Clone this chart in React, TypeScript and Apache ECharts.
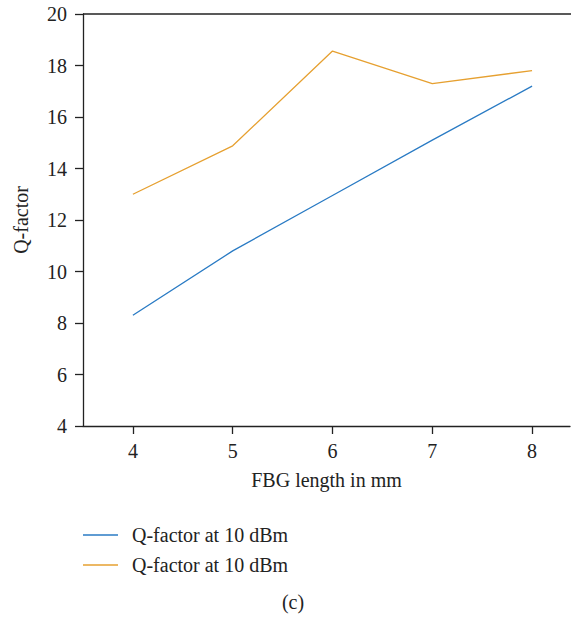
import React, { useEffect, useRef } from "react";
import * as echarts from "echarts";

const xValues = [4, 5, 6, 7, 8];
const seriesNames = ["Q-factor at 10 dBm", "Q-factor at 10 dBm"];
const blueValues = [8.3, 10.8, 12.95, 15.1, 17.2];
const orangeValues = [13.0, 14.88, 18.56, 17.3, 17.8];
const xTicks = [4, 5, 6, 7, 8];
const colors = ["#2a7bc4", "#e6a030"];

const FONT = "'Liberation Serif', serif";
const FS = 20;

export default function App() {
  const ref = useRef<HTMLDivElement>(null);
  useEffect(() => {
    if (!ref.current) return;
    const chart = echarts.init(ref.current, undefined, { renderer: "svg" });
    const mk = (vals: number[]) => xValues.map((x, i) => [x, vals[i]]);
    chart.setOption({
      animation: false,
      backgroundColor: "#ffffff",
      textStyle: { fontFamily: FONT, color: "#222" },
      grid: { left: 83, top: 14, right: 1, bottom: 192 },
      xAxis: {
        type: "value",
        min: 3.5,
        max: 8.38,
        name: "FBG length in mm",
        nameLocation: "middle",
        nameGap: 44,
        nameTextStyle: { fontFamily: FONT, fontSize: FS, color: "#222" },
        axisLine: { lineStyle: { color: "#222", width: 1.3 } },
        axisTick: { show: true, length: 8, customValues: xTicks, lineStyle: { color: "#222", width: 1.3 } },
        axisLabel: { customValues: xTicks, margin: 15, fontFamily: FONT, fontSize: FS, color: "#222" },
        splitLine: { show: false },
      },
      yAxis: {
        type: "value",
        min: 4,
        max: 20,
        interval: 2,
        name: "Q-factor",
        nameLocation: "middle",
        nameGap: 52,
        nameTextStyle: { fontFamily: FONT, fontSize: FS, color: "#222" },
        axisLine: { show: true, lineStyle: { color: "#222", width: 1.3 } },
        axisTick: { show: true, length: 8, lineStyle: { color: "#222", width: 1.3 } },
        axisLabel: { margin: 16, fontFamily: FONT, fontSize: FS, color: "#222" },
        splitLine: { show: false },
      },
      series: [
        {
          type: "line",
          name: seriesNames[0],
          data: mk(blueValues),
          showSymbol: false,
          lineStyle: { color: colors[0], width: 1.3 },
          itemStyle: { color: colors[0] },
        },
        {
          type: "line",
          name: seriesNames[1],
          data: mk(orangeValues),
          showSymbol: false,
          lineStyle: { color: colors[1], width: 1.3 },
          itemStyle: { color: colors[1] },
        },
      ],
      graphic: [
        { type: "line", shape: { x1: 83, y1: 14, x2: 571, y2: 14 }, style: { stroke: "#222", lineWidth: 1.3 } },
        { type: "line", shape: { x1: 83, y1: 535, x2: 118, y2: 535 }, style: { stroke: colors[0], lineWidth: 1.3 } },
        { type: "text", x: 132, y: 535, style: { text: seriesNames[0], fontFamily: FONT, fontSize: FS, fill: "#222", verticalAlign: "middle" } },
        { type: "line", shape: { x1: 83, y1: 565, x2: 118, y2: 565 }, style: { stroke: colors[1], lineWidth: 1.3 } },
        { type: "text", x: 132, y: 565, style: { text: seriesNames[1], fontFamily: FONT, fontSize: FS, fill: "#222", verticalAlign: "middle" } },
        { type: "text", x: 293, y: 602, style: { text: "(c)", fontFamily: FONT, fontSize: FS, fill: "#222", align: "center", verticalAlign: "middle" } },
      ],
    });
    return () => chart.dispose();
  }, []);
  return (
    <div
      ref={ref}
      style={{ position: "fixed", left: 0, top: 0, width: 571, height: 618 }}
    />
  );
}
